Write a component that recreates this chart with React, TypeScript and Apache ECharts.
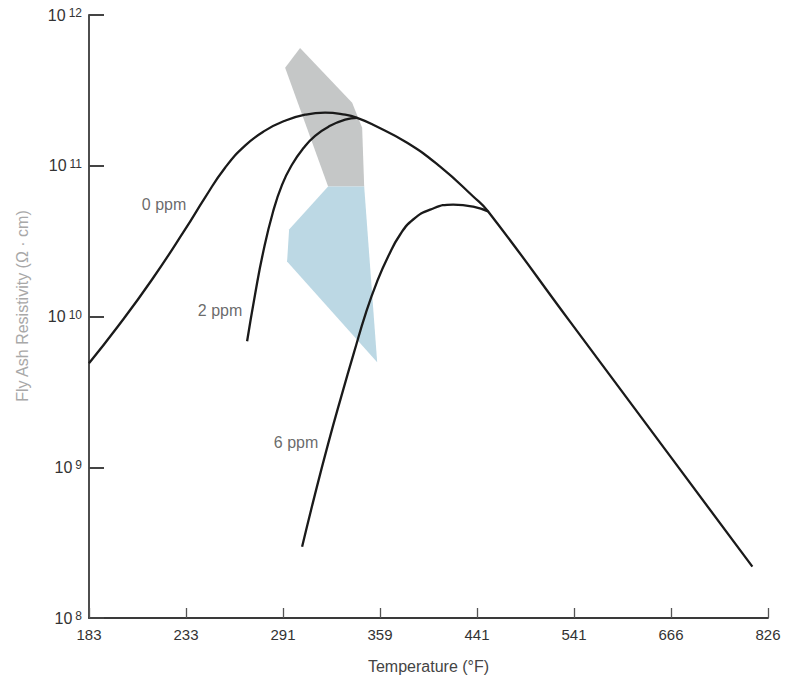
import React, { useEffect, useRef } from "react";
import * as echarts from "echarts";

// Temperature tick labels (°F), equally spaced (reciprocal-temperature scale)
const tempLabels = ["183", "233", "291", "359", "441", "541", "666", "826"];

// Curve points: x in tick-position units (0 = 183 °F … 7 = 826 °F), y = resistivity (Ω·cm)
const ppm0X = [0, 0.299, 0.65, 0.991, 1.196, 1.403, 1.609, 1.815, 2.022, 2.228, 2.434, 2.641, 2.764, 2.929, 3.28, 3.62, 3.961, 4.115, 4.961, 5.993, 6.839];
const ppm0Y = [4.9e9, 8.61e9, 1.76e10, 3.78e10, 6.15e10, 9.71e10, 1.36e11, 1.71e11, 1.99e11, 2.18e11, 2.25e11, 2.18e11, 2.08e11, 1.87e11, 1.42e11, 9.86e10, 6.25e10, 4.97e10, 9.21e9, 1.18e9, 2.19e8];

const ppm2X = [1.63, 1.712, 1.795, 1.898, 1.991, 2.094, 2.207, 2.331, 2.486, 2.641, 2.764];
const ppm2Y = [6.85e9, 1.4e10, 2.66e10, 4.97e10, 7.5e10, 1.02e11, 1.3e11, 1.58e11, 1.84e11, 2.02e11, 2.08e11];

const ppm6X = [2.197, 2.331, 2.465, 2.599, 2.733, 2.857, 2.971, 3.084, 3.208, 3.342, 3.517, 3.754, 3.961, 4.115];
const ppm6Y = [2.97e8, 6.66e8, 1.43e9, 2.92e9, 5.8e9, 1.07e10, 1.71e10, 2.5e10, 3.5e10, 4.4e10, 5.12e10, 5.53e10, 5.36e10, 4.97e10];

// Shaded regions (vertices)
const grayRegionX = [2.176, 2.022, 2.465, 2.837, 2.816, 2.713];
const grayRegionY = [6.05e11, 4.46e11, 7.27e10, 7.27e10, 1.79e11, 2.62e11];
const blueRegionX = [2.465, 2.837, 2.971, 2.042, 2.063];
const blueRegionY = [7.27e10, 7.27e10, 4.98e9, 2.32e10, 3.78e10];

// Curve label names and anchors
const curveNames = ["0 ppm", "2 ppm", "6 ppm"];
const curveLabelX = [0.774, 1.351, 2.135];
const curveLabelY = [5.53e10, 1.1e10, 1.45e9];

const zip = (xs: number[], ys: number[]) => xs.map((x, i) => [x, ys[i]]);

export default function App() {
  const ref = useRef<HTMLDivElement>(null);
  useEffect(() => {
    if (!ref.current) return;
    const chart = echarts.init(ref.current, null, { renderer: "svg" });
    const regions = [
      { pts: zip(grayRegionX, grayRegionY), color: "#c5c7c7" },
      { pts: zip(blueRegionX, blueRegionY), color: "#bcd8e4" },
    ];
    const font = "'Liberation Sans', Arial, sans-serif";
    const lineStyle = { color: "#1a1a1a", width: 2.3 };
    const curve = { type: "line", z: 3, showSymbol: false, smooth: 0.5, lineStyle };
    chart.setOption({
      animation: false,
      backgroundColor: "#ffffff",
      textStyle: { fontFamily: font },
      grid: { left: 89, top: 15, right: 20, bottom: 60, containLabel: false },
      graphic: [
        {
          type: "text",
          x: 22,
          y: 306,
          rotation: Math.PI / 2,
          style: {
            text: "Fly Ash Resistivity (Ω · cm)",
            fill: "#a8a8a8",
            fontSize: 16,
            fontFamily: font,
            align: "center",
            verticalAlign: "middle",
          },
        },
      ],
      xAxis: {
        type: "value",
        min: 0,
        max: 7,
        interval: 1,
        name: "Temperature (°F)",
        nameLocation: "middle",
        nameGap: 40,
        nameTextStyle: { color: "#444", fontSize: 16, fontFamily: font },
        axisLine: { show: true, lineStyle: { color: "#3a3a3a", width: 1.8 } },
        axisTick: { show: true, inside: true, length: 10, lineStyle: { color: "#555", width: 1.3 } },
        axisLabel: {
          color: "#333",
          fontSize: 15,
          margin: 9,
          fontFamily: font,
          formatter: (v: number) => tempLabels[Math.round(v)] ?? "",
        },
        splitLine: { show: false },
      },
      yAxis: {
        type: "log",
        logBase: 10,
        min: 1e8,
        max: 1e12,
        axisLine: { show: true, lineStyle: { color: "#3a3a3a", width: 1.8 } },
        axisTick: { show: true, inside: true, length: 15, lineStyle: { color: "#444", width: 2 } },
        axisLabel: {
          margin: 7,
          fontFamily: font,
          formatter: (v: number) => `{b|10}{e|${Math.round(Math.log10(v))}}`,
          rich: {
            b: { fontSize: 16, color: "#333", fontFamily: font, lineHeight: 16, verticalAlign: "bottom" },
            e: { fontSize: 12, color: "#333", fontFamily: font, lineHeight: 10, verticalAlign: "top", padding: [0, 0, 0, 3] },
          },
        },
        splitLine: { show: false },
      },
      series: [
        {
          type: "custom",
          z: 1,
          silent: true,
          data: [0, 1],
          renderItem: (params: any, api: any) => {
            const r = regions[params.dataIndex];
            const points = r.pts.map((p) => api.coord(p));
            return { type: "polygon", shape: { points }, style: { fill: r.color } };
          },
        },
        { ...curve, name: "0 ppm", data: zip(ppm0X, ppm0Y) },
        { ...curve, name: "2 ppm", data: zip(ppm2X, ppm2Y) },
        { ...curve, name: "6 ppm", data: zip(ppm6X, ppm6Y) },
        {
          type: "scatter",
          z: 4,
          symbolSize: 0,
          silent: true,
          data: curveNames.map((n, i) => ({ value: [curveLabelX[i], curveLabelY[i]], name: n })),
          label: {
            show: true,
            position: "inside",
            formatter: (p: any) => p.name,
            color: "#444",
            fontSize: 16,
            fontFamily: font,
          },
        },
      ],
    });
    return () => chart.dispose();
  }, []);
  return <div ref={ref} style={{ position: "fixed", left: 0, top: 0, width: 788, height: 679 }} />;
}
